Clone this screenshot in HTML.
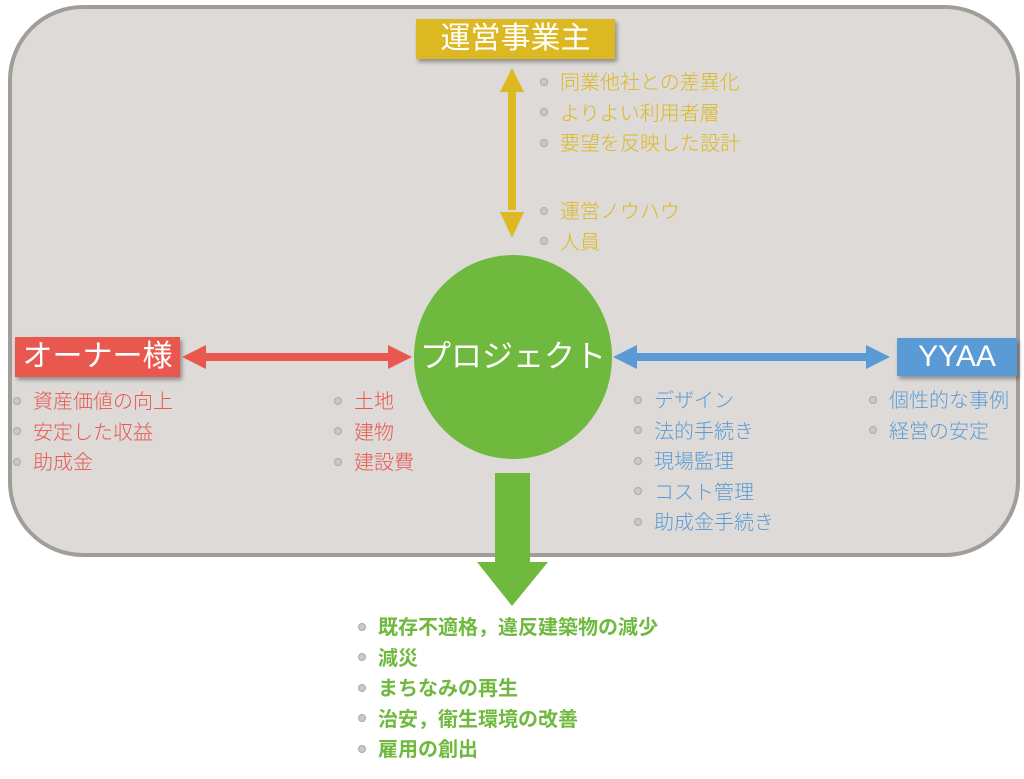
<!DOCTYPE html>
<html><head><meta charset="utf-8"><style>
body{margin:0;width:1024px;height:779px;background:#fff;position:relative;overflow:hidden;font-family:"Liberation Sans","Noto Sans CJK JP",sans-serif}
.frame{position:absolute;left:8px;top:5px;width:1004px;height:544px;border:4px solid #a19d99;border-radius:75px;background:#dddad7}
.box{position:absolute;color:#fff;font-size:30px;text-align:center;box-shadow:2px 3px 4px rgba(0,0,0,.35)}
.t{position:absolute;font-size:20px;line-height:30.5px;white-space:nowrap;font-weight:300}
.t div:before{content:"";display:inline-block;width:6px;height:6px;border-radius:50%;background:#c8c8d0;border:1px solid #aaa;margin-right:12px;vertical-align:middle;position:relative;top:-2px}
</style></head><body>
<div class="frame"></div>
<div class="box" style="left:416px;top:19px;width:199px;height:40px;line-height:40px;background:#dcb822">運営事業主</div>
<div class="box" style="left:15px;top:337px;width:165px;height:40px;line-height:40px;background:#e8584f">オーナー様</div>
<div class="box" style="left:897px;top:338px;width:120px;height:38px;line-height:38px;background:#5b9bd5">YYAA</div>
<div style="position:absolute;left:414px;top:255px;width:198px;height:204px;border-radius:50%;background:#6fb93e;color:#fff;font-size:31px;text-align:center;line-height:204px">プロジェクト</div>
<svg width="1024" height="779" style="position:absolute;left:0;top:0">
<g fill="#dcb822"><rect x="508" y="90" width="8" height="120"/><polygon points="512,68 500,92 524,92"/><polygon points="512,238 500,212 524,212"/></g>
<g fill="#e8584f"><rect x="200" y="353" width="200" height="8"/><polygon points="182,357 206,345 206,369"/><polygon points="412,357 388,345 388,369"/></g>
<g fill="#5b9bd5"><rect x="630" y="353" width="240" height="8"/><polygon points="613,357 637,345 637,369"/><polygon points="890,357 866,345 866,369"/></g>
<g fill="#6fb93e"><rect x="495" y="473" width="35" height="90"/><polygon points="477,562 548,562 512,606"/></g>
</svg>
<div class="t" style="left:540px;top:68px;color:#dcb822"><div>同業他社との差異化</div><div>よりよい利用者層</div><div>要望を反映した設計</div></div>
<div class="t" style="left:540px;top:197px;color:#dcb822"><div>運営ノウハウ</div><div>人員</div></div>
<div class="t" style="left:13px;top:387px;color:#e8584f"><div>資産価値の向上</div><div>安定した収益</div><div>助成金</div></div>
<div class="t" style="left:334px;top:387px;color:#e8584f"><div>土地</div><div>建物</div><div>建設費</div></div>
<div class="t" style="left:634px;top:386px;color:#5b9bd5"><div>デザイン</div><div>法的手続き</div><div>現場監理</div><div>コスト管理</div><div>助成金手続き</div></div>
<div class="t" style="left:869px;top:386px;color:#5b9bd5"><div>個性的な事例</div><div>経営の安定</div></div>
<div class="t" style="left:358px;top:613px;color:#6fb93e;font-weight:bold"><div>既存不適格，違反建築物の減少</div><div>減災</div><div>まちなみの再生</div><div>治安，衛生環境の改善</div><div>雇用の創出</div></div>
</body></html>
